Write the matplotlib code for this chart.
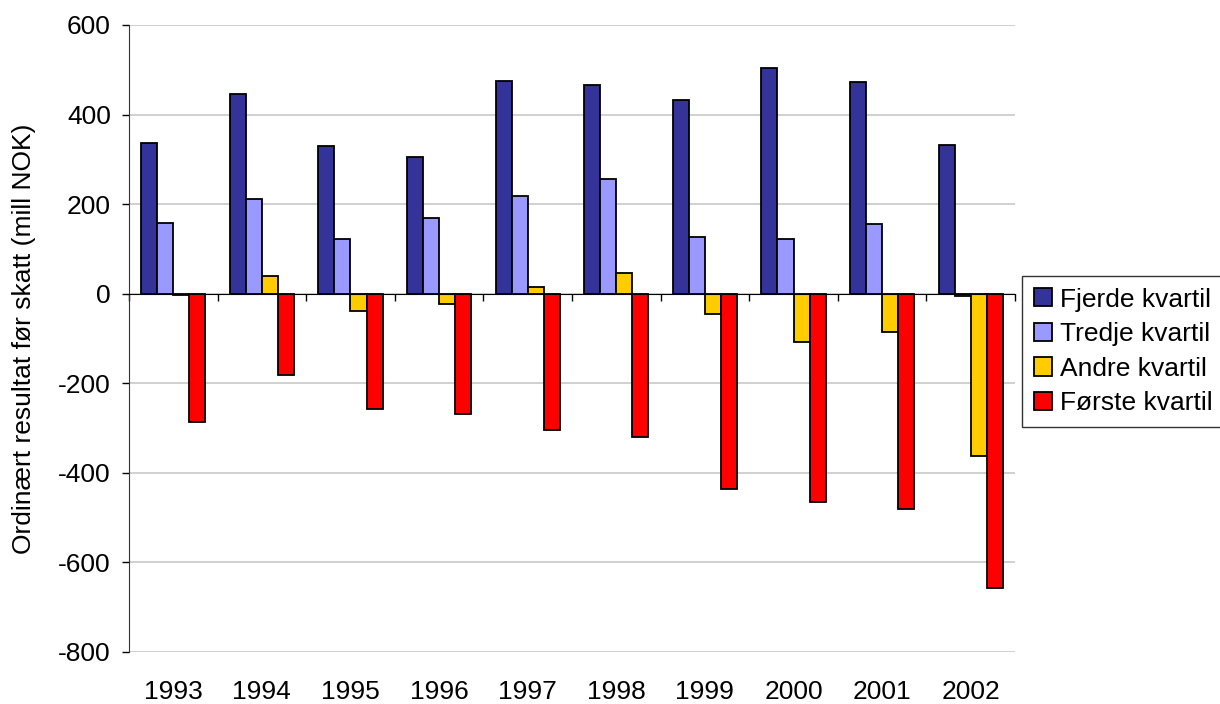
import numpy as np
import matplotlib.pyplot as plt

plt.rcParams['font.family'] = ['Liberation Sans', 'DejaVu Sans']
plt.rcParams['axes.unicode_minus'] = False

# ---- data (mill NOK) -----------------------------------------------------
years = ["1993", "1994", "1995", "1996", "1997", "1998", "1999", "2000", "2001", "2002"]
fjerde = [337, 445, 329, 306, 475, 467, 433, 503, 472, 331]
tredje = [157, 211, 121, 170, 218, 255, 126, 121, 155, -5]
andre = [-2, 40, -39, -22, 14, 46, -46, -107, -86, -363]
forste = [-287, -182, -257, -269, -305, -321, -437, -465, -481, -657]

series = [
    ("Fjerde kvartil", fjerde, "#333399"),
    ("Tredje kvartil", tredje, "#9999FF"),
    ("Andre kvartil", andre, "#FFCC00"),
    ("Første kvartil", forste, "#FF0000"),
]

fs = 19

fig = plt.figure(figsize=(12.2, 7.04), dpi=100)
ax = fig.add_axes([0.1057, 0.074, 0.7263, 0.8905])

x = np.arange(len(years))
w = 0.181
for i, (name, vals, col) in enumerate(series):
    ax.bar(x + (i - 1.5) * w, vals, w, color=col, edgecolor="black",
           linewidth=1.3, label=name, zorder=3)

ax.set_xlim(-0.5, len(years) - 0.5)
ax.set_ylim(-800, 600)
ax.set_yticks(np.arange(-800, 601, 200))
ax.yaxis.grid(True, color="#c8c8c8", linewidth=1.2, zorder=0)
ax.tick_params(axis="y", labelsize=fs, length=5, width=1, direction="out", pad=8)

# x axis line at zero with ticks between categories
for s in ("top", "right"):
    ax.spines[s].set_visible(False)
ax.spines["bottom"].set_position(("data", 0))
ax.spines["bottom"].set_zorder(4)
ax.spines["left"].set_color("#333333")
ax.set_xticks(np.arange(-0.5, len(years), 1.0))
ax.set_xticklabels([])
ax.tick_params(axis="x", length=5, width=1, direction="out")

# category labels below the plot
sec = ax.secondary_xaxis("bottom")
sec.set_xticks(x, years)
sec.tick_params(length=0, labelsize=fs, pad=20)
sec.spines["bottom"].set_visible(False)

ax.set_ylabel("Ordinært resultat før skatt (mill NOK)", fontsize=fs, labelpad=16)

leg = fig.legend(loc="center left", bbox_to_anchor=(0.8377, 0.5007), fontsize=fs,
                 frameon=True, fancybox=False, edgecolor="black",
                 handlelength=0.68, handleheight=0.68, handletextpad=0.3,
                 labelspacing=0.4, borderpad=0.45, borderaxespad=0)
leg.get_frame().set_linewidth(1)

fig.savefig("out.png", dpi=100)
